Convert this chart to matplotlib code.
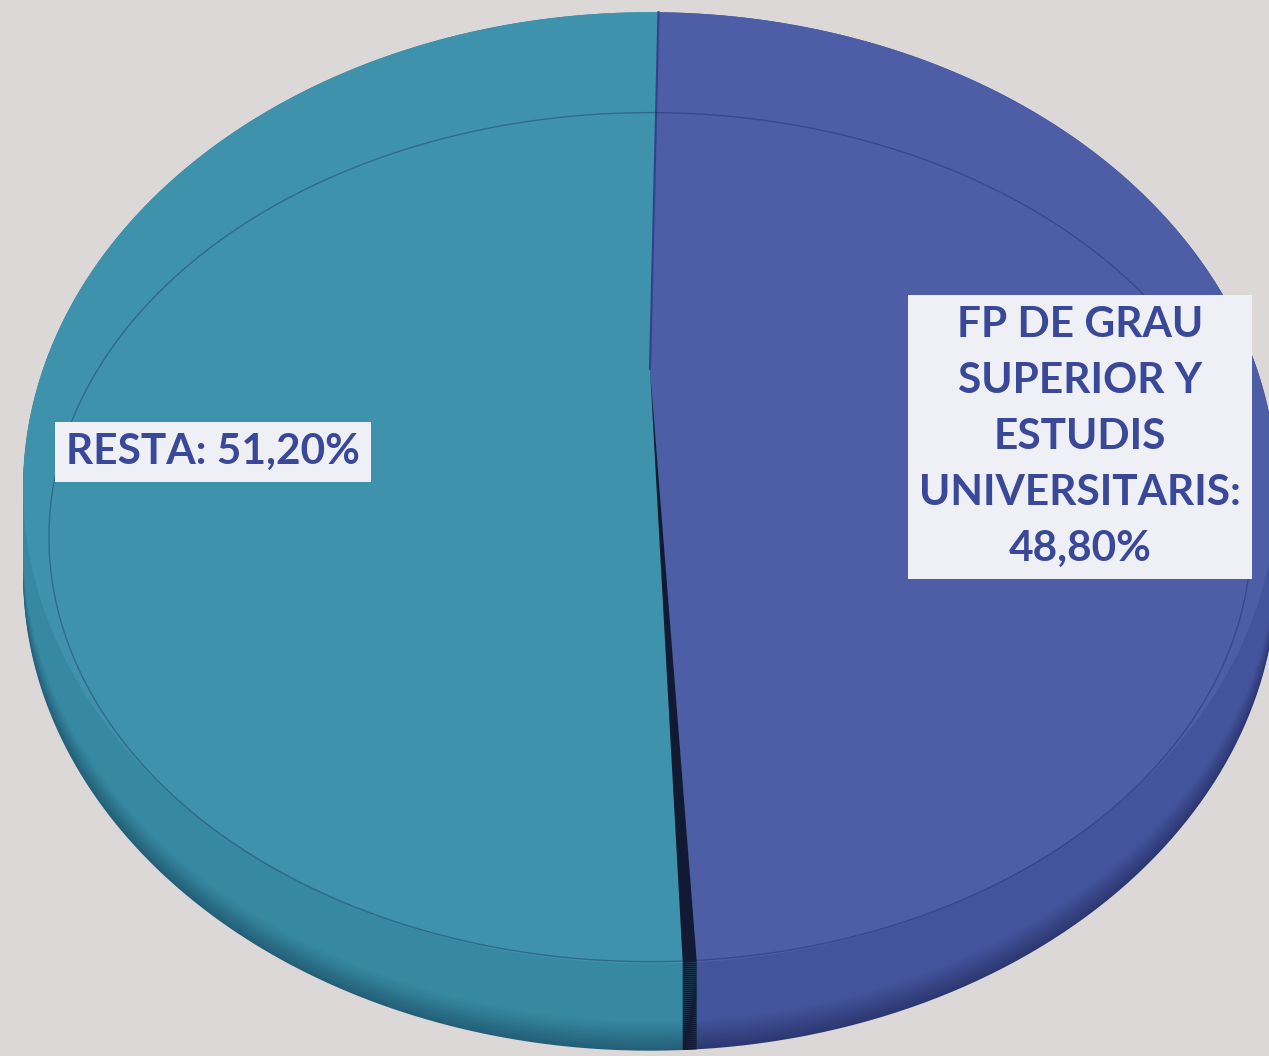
import numpy as np
import matplotlib.pyplot as plt
import matplotlib.colors as mcolors
import matplotlib.transforms as mtransforms
from matplotlib.path import Path
from matplotlib.patches import Wedge

# data
categories = ["FP DE GRAU\nSUPERIOR Y\nESTUDIS\nUNIVERSITARIS", "RESTA"]
values = [48.80, 51.20]
top_colors = ["#4e5ea6", "#3f92ab"]
side_colors = ["#44549c", "#3689a1"]
side_dark = ["#2c3872", "#245f78"]

W, H = 1269, 1056
START = 89


class Tilt(mtransforms.Transform):
    """unit circle -> perspective ellipse in pixel coords"""
    input_dims = output_dims = 2

    def __init__(self, cx, cy, a, b, g):
        super().__init__()
        self.cx, self.cy, self.a, self.b, self.g = cx, cy, a, b, g

    def transform_non_affine(self, xy):
        xy = np.asarray(xy, dtype=float)
        u = xy[:, 0]
        v = -xy[:, 1]
        s = 1.0 / (1.0 - self.g * v)
        return np.column_stack([self.cx + self.a * u * s, self.cy + self.b * v * s])

    def transform_path_non_affine(self, path):
        # flatten the bezier arcs before warping them
        verts, codes = [], []
        t = np.linspace(0, 1, 40)[1:]
        for seg, code in path.iter_bezier():
            if code == Path.MOVETO:
                verts.append(seg.control_points[-1:])
                codes.append(Path.MOVETO)
            else:
                pts = seg(t)
                verts.append(pts)
                codes.extend([Path.LINETO] * len(pts))
        verts = np.concatenate(verts)
        return Path(self.transform_non_affine(verts), codes)


fig = plt.figure(figsize=(W / 100, H / 100), dpi=100)
fig.patch.set_facecolor("#dbd8d7")
ax = fig.add_axes([0, 0, 1, 1])

split_end = START - 360 * values[0] / sum(values)


def pie_layer(T, colors, z):
    wedges, _ = ax.pie(values, startangle=START, counterclock=False, colors=colors,
                       wedgeprops=dict(linewidth=0))
    for w in wedges:
        w.set_transform(T + ax.transData)
        w.set_zorder(z)
    gap = Wedge((0, 0), 1, split_end - 1.0, split_end, color="#121a33", lw=0, zorder=z + 0.01)
    gap.set_transform(T + ax.transData)
    ax.add_patch(gap)


rim = dict(cx=650, cy=369, a=607, b=446, g=0.25)
depth = 87

# side wall: stacked layers from bottom up
n = 45
for k in range(n):
    f = k / (n - 1)
    cols = []
    for c0, c1 in zip(side_dark, side_colors):
        r0 = np.array(mcolors.to_rgb(c0))
        r1 = np.array(mcolors.to_rgb(c1))
        cols.append(tuple(r0 + (r1 - r0) * min(1, f * 3)))
    T = Tilt(rim["cx"], rim["cy"] + depth * (1 - f), rim["a"], rim["b"], rim["g"])
    pie_layer(T, cols, 1 + f)

# top face incl. bevel
T_rim = Tilt(**rim)
pie_layer(T_rim, top_colors, 5)
ax.plot([0, np.cos(np.radians(START))], [0, np.sin(np.radians(START))],
        color="#33408a", lw=1.5, transform=T_rim + ax.transData, zorder=5.2)

# inner bevel outline
T_in = Tilt(650, 431, 582, 398, 0.25)
ring, _ = ax.pie([1], wedgeprops=dict(fill=False, edgecolor=(0.08, 0.12, 0.35, 0.35), linewidth=1.0))
ring[0].set_transform(T_in + ax.transData)
ring[0].set_zorder(6)

ax.set_aspect("auto")
ax.set_xlim(0, W)
ax.set_ylim(H, 0)
ax.set_axis_off()

# labels
fmt = lambda v: f"{v:.2f}%".replace(".", ",")
box = dict(boxstyle="square,pad=0.27", fc="#eef0f5", ec="none")
ax.text(1080, 437, f"{categories[0]}:\n{fmt(values[0])}", ha="center", va="center",
        fontsize=30.5, fontweight="bold", family="Lato", color="#3a489a",
        linespacing=1.58, bbox=box, zorder=10)
ax.text(213, 452, f"{categories[1]}: {fmt(values[1])}", ha="center", va="center",
        fontsize=30.5, fontweight="bold", family="Lato", color="#3a489a",
        bbox=box, zorder=10)

fig.savefig("out.png", dpi=100, facecolor=fig.get_facecolor())
